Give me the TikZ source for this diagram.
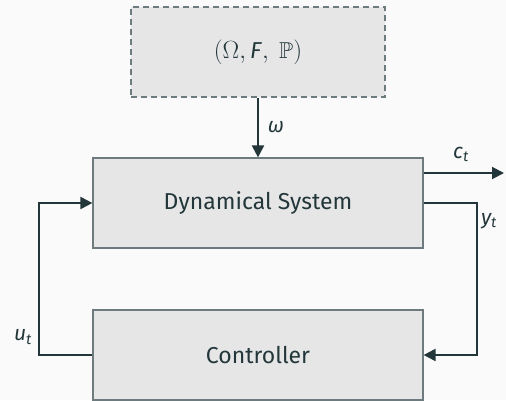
\documentclass[tikz,border=0pt]{standalone}
\usepackage{fontspec}
\setmainfont{Fira Sans}
\usepackage{amssymb}
\usetikzlibrary{arrows.meta}
\definecolor{fg}{HTML}{23373B}
\definecolor{bg}{HTML}{FAFAFA}
\definecolor{boxfill}{HTML}{E6E6E6}
\definecolor{boxline}{HTML}{6E7B7E}
\tikzset{
  block/.style={draw=boxline, fill=boxfill, line width=1.2pt, text=fg,
    minimum width=330pt, minimum height=90pt, inner sep=0pt,
    font=\fontsize{23}{27}\selectfont},
  noisebox/.style={block, dashed, dash pattern=on 6pt off 4pt, minimum width=254pt},
  wire/.style={draw=fg, line width=2pt, -{Triangle[length=12pt,width=12pt]}},
  lbl/.style={text=fg, inner sep=0pt, font=\fontsize{21}{25}\selectfont\itshape},
}
\begin{document}
\begin{tikzpicture}[x=1pt,y=-1pt]
  \fill[bg] (0,0) rectangle (506,400);
  \useasboundingbox (0,0) rectangle (506,400);

  % blocks
  \node[noisebox] (noise) at (258,52) {$(\Omega,\mbox{\textit{F}},\ \mathbb{P})$};
  \node[block] (sys) at (258,203) {Dynamical System};
  \node[block] (ctrl) at (258,355) {Controller};

  % disturbance into the system
  \draw[wire] (noise.south) -- (sys.north);
  \node[lbl] (w) at (276,127) {ω};

  % output c_t
  \coordinate (cout) at (504,173);
  \draw[wire] (sys.east |- cout) -- (cout);
  \node[lbl] (ct) at (461,154) {c\textsubscript{t}};

  % measurement y_t to the controller
  \draw[wire] (sys.east) -- ++(53,0) |- (ctrl.east);
  \node[lbl] (yt) at (489,221) {y\textsubscript{t}};

  % control u_t back to the system
  \draw[wire] (ctrl.west) -- ++(-53,0) |- (sys.west);
  \node[lbl] (ut) at (23,337) {u\textsubscript{t}};
\end{tikzpicture}
\end{document}
